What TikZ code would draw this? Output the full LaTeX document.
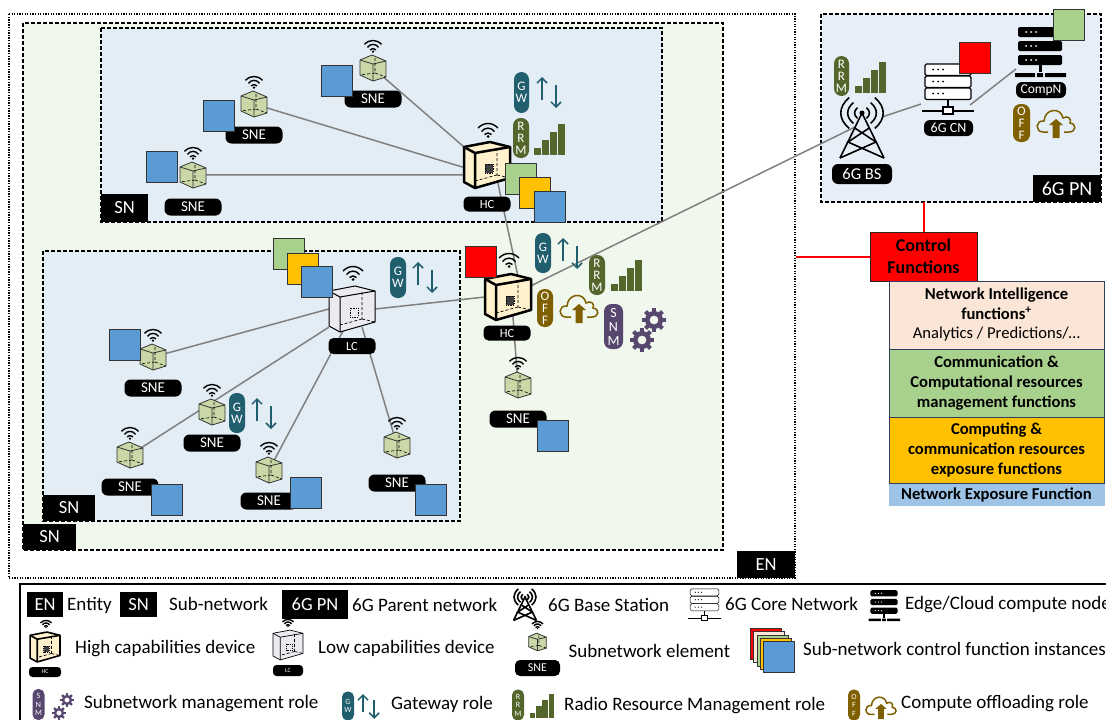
\documentclass[tikz,border=0pt]{standalone}
\usepackage{fontspec}
\setmainfont{Carlito}
\usetikzlibrary{arrows.meta,calc}

\definecolor{enfill}{HTML}{F0F7EC}
\definecolor{snfill}{HTML}{E3EDF5}
\definecolor{pnfill}{HTML}{E6EEF8}
\definecolor{gwcol}{HTML}{215E6E}
\definecolor{rrmcol}{HTML}{55662C}
\definecolor{offcol}{HTML}{7F6000}
\definecolor{snmcol}{HTML}{57476F}
\definecolor{fnblue}{HTML}{5B9BD5}
\definecolor{fngreen}{HTML}{A9D18E}
\definecolor{fnorange}{HTML}{FFC000}
\definecolor{fnpeach}{HTML}{FBE5D6}
\definecolor{fnlight}{HTML}{9DC3E6}
\definecolor{hcfill}{HTML}{FFF2CC}
\definecolor{lcfill}{HTML}{ECEAF1}
\definecolor{snefill}{HTML}{C9D8A6}
\definecolor{linkcol}{HTML}{808080}
\definecolor{stackline}{HTML}{2F3F5F}

\tikzset{
    region/.style={draw=black, line width=1.2pt, dash pattern=on 4pt off 2pt},
    blackbox/.style={fill=black, text=white, inner sep=0pt, font=\fontsize{18.5}{18.5}\selectfont},
    tag/.style={fill=black, text=white, inner sep=0pt, rounded corners=#1},
    fnsquare/.style={draw=black!80, line width=1pt, fill=#1, minimum size=31pt, inner sep=0pt},
    pill/.style={fill=#1, text=white, inner sep=0pt, align=center, rounded corners=7.5pt},
    rolefont/.style={font=\fontsize{13}{12}\selectfont},
    rolesmall/.style={font=\fontsize{8}{8.5}\selectfont, rounded corners=5.5pt},
    link/.style={draw=linkcol, line width=1.5pt},
    redlink/.style={draw=red, line width=2pt},
    hub/.style={inner sep=0pt, minimum width=46pt, minimum height=36pt},
    stackbox/.style={draw=stackline, line width=1pt, fill=#1, minimum width=215pt, inner sep=0pt,
        align=center, font=\fontsize{16.6}{20}\selectfont\bfseries},
    legendtext/.style={anchor=west, inner sep=0pt, font=\fontsize{19}{19}\selectfont},
    pics/wifi/.style={code={
        \draw[line width=1.4pt] (-10,-2) .. controls (-4,-8) and (4,-8) .. (10,-2);
        \draw[line width=1.4pt] (-6.5,1.5) .. controls (-3,-3) and (3,-3) .. (6.5,1.5);
        \draw[line width=1.4pt] (-3.5,4.5) .. controls (-1.5,2.5) and (1.5,2.5) .. (3.5,4.5);
        \fill (0,6.5) circle (1.5);
    }},
    pics/devbox/.style 2 args={code={
        \draw[fill=#1, line join=round] (-23,-18) -- (3,-23) -- (23,-18) -- (23,13) -- (-12,23) -- (-23,17) -- cycle;
        \draw[line join=round] (-23,-18) -- (-12,-12) -- (23,-18) (-12,-12) -- (-12,23);
        \draw[densely dashed, line width=.7pt] (10,-17) -- (10,10) (10,10) -- (-12,16) (10,10) -- (23,13);
        \draw[fill=#2, line width=.8pt, densely dotted] (-2,-1) rectangle (6,8);
    }},
    pics/snecube/.style={code={
        \draw[fill=snefill, draw=black!80, line width=.8pt, line join=round] (-13,-8) -- (-1,-13) -- (13,-7) -- (13,9) -- (0,13) -- (-13,7) -- cycle;
        \draw[draw=black!80, line width=.8pt] (-13,-8) -- (0,-4) -- (13,-7) (0,-4) -- (0,13);
        \draw[densely dashed, line width=.6pt] (2,-10) -- (2,5) (2,5) -- (-13,7) (2,5) -- (13,9);
    }},
    pics/updown/.style={code={
        \draw[gwcol, line width=1.5pt, -{Straight Barb[length=5pt,width=10pt]}] (0,23) -- (0,0);
        \draw[gwcol, line width=1.5pt, -{Straight Barb[length=5pt,width=10pt]}] (14,8) -- (14,31);
    }},
    pics/bars/.style={code={
        \foreach \i/\h in {0/7,1/15,2/23,3/31} {
            \fill[rrmcol] ({\i*8},31) rectangle ({\i*8+7},{31-\h});
        }
    }},
    pics/cloudup/.style={code={
        \draw[offcol, line width=1.5pt] (-8,8) -- (-13,8) .. controls (-21,8) and (-21,-4) .. (-12,-3)
            .. controls (-11,-16) and (5,-17) .. (7,-6) .. controls (12,-9) and (16,-5) .. (14,-1)
            .. controls (21,0) and (20,8) .. (13,8) -- (8,8);
        \fill[offcol] (0,-5) -- (-7,1) -- (-3.5,1) -- (-3.5,14) -- (3.5,14) -- (3.5,1) -- (7,1) -- cycle;
    }},
    pics/gear/.style={code={
        \fill[snmcol, even odd rule] (0,0) circle (9) (0,0) circle (4.5);
        \foreach \a in {0,45,...,315} {
            \fill[snmcol, rotate=\a] (-2,8) rectangle (2,12);
        }
    }},
    pics/tower/.style={code={
        \draw[line width=1.6pt, line join=round] (-22,45) -- (0,0) -- (22,45);
        \draw[line width=1.6pt] (-7.3,15) -- (14,29) -- (-22,45) (7.3,15) -- (-14,29) -- (22,45);
        \fill (0,0) circle (2.5);
        \foreach \r in {7,13.5,20} {
            \draw[line width=1.6pt] ({-.64*\r},{-.77*\r}) .. controls ({-1.2*\r},{-.3*\r}) and ({-1.2*\r},{.3*\r}) .. ({-.64*\r},{.77*\r});
            \draw[line width=1.6pt] ({.64*\r},{-.77*\r}) .. controls ({1.2*\r},{-.3*\r}) and ({1.2*\r},{.3*\r}) .. ({.64*\r},{.77*\r});
        }
    }},
    pics/corenode/.style={code={
        \foreach \y in {-18,-6,6} {
            \draw[fill=white, rounded corners=1.5pt] (-23,\y) rectangle (23,{\y+11.5});
            \fill (-15,{\y+5.5}) circle (1) (-10,{\y+5.5}) circle (1) (-5,{\y+5.5}) circle (1);
        }
        \draw (0,18) -- (0,25) (-26,29) -- (26,29);
        \draw[fill=white] (-5,25) rectangle (5,32);
    }},
    pics/computenode/.style={code={
        \foreach \y in {-19,-5,9} {
            \fill[black, rounded corners=1.5pt] (-22,\y) rectangle (22,{\y+10});
            \fill[white] (-14,{\y+5}) circle (1) (-9,{\y+5}) circle (1) (-4,{\y+5}) circle (1);
        }
        \fill (-1.5,19) rectangle (1.5,26);
        \fill (-25,27) rectangle (-5,31) (-3,27) rectangle (3,31) (5,27) rectangle (26,31);
    }},
}

% SNE with its wifi sign and label
\newcommand{\snedevice}[2]{
    \pic at (#1) {snecube};
    \pic at ($(#1)+(0,-22)$) [scale=.85] {wifi};
    \node[tag=6pt, minimum width=57pt, minimum height=17pt, font=\fontsize{15}{15}\selectfont] (#1tag) at ($(#1)+(0,#2)$) {SNE};
}

\begin{document}
\begin{tikzpicture}[x=1pt, y=-1pt]
    \useasboundingbox (0,0) rectangle (1106,720);

    % Entity
    \draw[draw=black, line width=1.2pt, dash pattern=on 1.3pt off 1.3pt] (9,14) rectangle (795,578);
    \node[blackbox, minimum width=58pt, minimum height=27pt] (enlabel) at (766,564.5) {EN};

    % Outer subnetwork
    \draw[region, fill=enfill] (23,23) rectangle (723,550);
    \node[blackbox, minimum width=53pt, minimum height=26pt] (snouter) at (49.5,537) {SN};

    % Upper subnetwork
    \draw[region, fill=snfill] (101,28) rectangle (662,222);
    \node[blackbox, minimum width=47pt, minimum height=28pt] (snupper) at (124.5,208) {SN};

    % Left subnetwork
    \draw[region, fill=snfill] (43,251) rectangle (460,521);
    \node[blackbox, minimum width=52pt, minimum height=26pt] (snleft) at (69,508) {SN};

    % Parent network
    \draw[region, fill=pnfill] (821,14) rectangle (1101,202);
    \node[blackbox, font=\fontsize{20}{20}\selectfont, minimum width=68pt, minimum height=27pt] (pnlabel) at (1067,188.5) {6G PN};

    % Where the devices sit
    \node[hub] (hctop) at (487,165) {};
    \node[hub] (hcmid) at (508,297) {};
    \node[hub] (lcdev) at (352,309) {};
    \coordinate (sneA) at (373,68);
    \coordinate (sneB) at (254,104);
    \coordinate (sneC) at (193,175);
    \coordinate (sneD) at (153,357);
    \coordinate (sneE) at (130,455);
    \coordinate (sneF) at (212,412);
    \coordinate (sneG) at (269,470);
    \coordinate (sneH) at (397,445);
    \coordinate (sneI) at (518,385);
    \coordinate (bsdev) at (855,127);
    \coordinate (cndev) at (921,104);
    \coordinate (compdev) at (1016,69);
    \coordinate (cnright) at (970,105);
    \coordinate (bsright) at (882,117);

    % Links
    \draw[link] (sneA) -- (hctop.north west);
    \draw[link] (sneB) -- (hctop.186);
    \draw[link] (sneC) -- (hctop.203);
    \draw[link] (hctop.-59) -- (hcmid.60);
    \draw[link] (hcmid.-75) -- (sneI);
    \draw[link] (hcmid) -- (bsdev);
    \draw[link] (bsright) -- (cndev);
    \draw[link] (cnright) -- (compdev);
    \draw[link] (lcdev.east) -- (hcmid.west);
    \draw[link] (lcdev.west) -- (sneD);
    \draw[link] (lcdev.south west) -- (sneE);
    \draw[link] (lcdev.-111) -- (sneG);
    \draw[link] (lcdev.-61) -- (sneH);

    % Upper subnetwork devices
    \snedevice{sneA}{31}
    \snedevice{sneB}{31}
    \snedevice{sneC}{32}
    \node[fnsquare=fnblue] (sqA) at (337,80.5) {};
    \node[fnsquare=fnblue] (sqB) at (219,116) {};
    \node[fnsquare=fnblue] (sqC) at (162,167) {};
    \pic[line width=2.5pt] at (hctop) {devbox={hcfill}{black!75}};
    \pic at (488,130) {wifi};
    \node[tag=5pt, minimum width=47pt, minimum height=15pt, font=\fontsize{12.5}{12.5}\selectfont] (hctoptag) at (487,204) {HC};
    \node[fnsquare=fngreen] (sqD) at (520.5,179) {};
    \node[fnsquare=fnorange] (sqE) at (534.5,193) {};
    \node[fnsquare=fnblue] (sqF) at (549.5,207) {};
    \node[pill=gwcol, rolefont, minimum width=15pt, minimum height=41pt] (gwtop) at (521.5,92.5) {G\\W};
    \pic at (542,77) {updown};
    \node[pill=rrmcol, rolefont, minimum width=16pt, minimum height=40pt] (rrmtop) at (521,138) {R\\R\\M};
    \pic at (534,124) {bars};

    % Middle device
    \pic[line width=2.5pt] at (hcmid) {devbox={hcfill}{black!75}};
    \pic at (509,260) {wifi};
    \node[tag=5pt, minimum width=47pt, minimum height=15pt, font=\fontsize{12.5}{12.5}\selectfont] (hcmidtag) at (507,333) {HC};
    \node[fnsquare=red] (sqG) at (480.5,262) {};
    \node[pill=gwcol, rolefont, minimum width=16pt, minimum height=40pt] (gwmid) at (543,253) {G\\W};
    \pic at (563,238) {updown};
    \node[pill=rrmcol, rolefont, minimum width=16pt, minimum height=40pt] (rrmmid) at (597,275) {R\\R\\M};
    \pic at (611,260) {bars};
    \node[pill=offcol, rolefont, minimum width=16pt, minimum height=38pt] (offmid) at (545,308) {O\\F\\F};
    \pic at (579,309) {cloudup};
    \node[pill=snmcol, font=\fontsize{14}{14}\selectfont, minimum width=19pt, minimum height=45pt] (snmmid) at (613.5,326.5) {S\\N\\M};
    \pic at (654,320) {gear};
    \pic at (642,340) {gear};
    \snedevice{sneI}{34}
    \node[fnsquare=fnblue] (sqH) at (552.5,436) {};

    % Left subnetwork devices
    \pic[line width=1pt] at (lcdev) {devbox={lcfill}{lcfill}};
    \pic at (353,273) {wifi};
    \node[tag=5pt, minimum width=47pt, minimum height=16pt, font=\fontsize{12.5}{12.5}\selectfont] (lctag) at (352,346) {LC};
    \node[fnsquare=fngreen] (sqI) at (288.5,254) {};
    \node[fnsquare=fnorange] (sqJ) at (303,268.5) {};
    \node[fnsquare=fnblue] (sqK) at (317,282) {};
    \node[pill=gwcol, rolefont, minimum width=16pt, minimum height=41pt] (gwlc) at (398,277.5) {G\\W};
    \pic at (418,262) {updown};
    \snedevice{sneD}{31}
    \snedevice{sneE}{32}
    \snedevice{sneF}{31}
    \snedevice{sneG}{31}
    \snedevice{sneH}{38}
    \node[fnsquare=fnblue] (sqL) at (125,345) {};
    \node[fnsquare=fnblue] (sqM) at (166.5,500) {};
    \node[fnsquare=fnblue] (sqN) at (305.5,493) {};
    \node[fnsquare=fnblue] (sqO) at (430.5,500) {};
    \node[pill=gwcol, rolefont, minimum width=16pt, minimum height=40pt] (gwsne) at (237,413) {G\\W};
    \pic at (257,398) {updown};

    % Parent network devices
    \node[pill=rrmcol, rolefont, minimum width=15pt, minimum height=40pt] (rrmpn) at (841.5,76) {R\\R\\M};
    \pic at (855,62) {bars};
    \pic at (862,113) {tower};
    \node[tag=6pt, minimum width=60pt, minimum height=20pt, font=\fontsize{16.5}{16.5}\selectfont] (bstag) at (862,174) {6G BS};
    \pic[line width=1.1pt] at (948,82) {corenode};
    \node[tag=6pt, minimum width=49pt, minimum height=16pt, font=\fontsize{14}{14}\selectfont] (cntag) at (948.5,128) {6G CN};
    \node[fnsquare=red] (sqP) at (974.5,57.5) {};
    \pic at (1040,46) {computenode};
    \node[tag=6pt, minimum width=50pt, minimum height=16pt, font=\fontsize{13.5}{13.5}\selectfont] (comptag) at (1041,90) {CompN};
    \node[fnsquare=fngreen] (sqQ) at (1068.5,25) {};
    \node[pill=offcol, rolefont, minimum width=17pt, minimum height=38pt] (offpn) at (1021.5,123) {O\\F\\F};
    \pic at (1056,124) {cloudup};

    % Control functions
    \node[draw=black!85, line width=1pt, fill=red, minimum width=107pt, minimum height=49pt, inner sep=0pt, align=center,
        font=\fontsize{18}{22}\selectfont\bfseries] (ctrl) at (923.5,256.5) {Control\\Functions};
    \coordinate (pnbottom) at (ctrl.north |- 0,202);
    \coordinate (enright) at (796,257);
    \draw[redlink] (pnbottom) -- (ctrl.north);
    \draw[redlink] (enright) -- (enright -| ctrl.west);

    \node[stackbox=fnpeach, minimum height=68pt] (nintel) at (996.5,315) {Network Intelligence\\functions\textsuperscript{+}\\[-1pt]{\normalfont Analytics / Predictions/\dots}};
    \node[stackbox=fngreen, minimum height=68pt] (cmgmt) at (996.5,383) {Communication \&\\Computational resources\\management functions};
    \node[stackbox=fnorange, minimum height=66pt] (cexpo) at (996.5,450) {Computing \&\\communication resources\\exposure functions};
    \node[fill=fnlight, minimum width=216pt, minimum height=22pt, inner sep=0pt, font=\fontsize{16.6}{16.6}\selectfont\bfseries] (nef) at (996.5,494.5) {Network Exposure Function};

    % Legend
    \draw[draw=black, line width=1.5pt] (20,584) rectangle (1130,740);

    \node[blackbox, minimum width=36pt, minimum height=25pt] (lgen) at (45,604.5) {EN};
    \node[legendtext] (lgentext) at (67,605) {Entity};
    \node[blackbox, minimum width=37pt, minimum height=25pt] (lgsn) at (138.5,604.5) {SN};
    \node[legendtext] (lgsntext) at (169,603.5) {Sub-network};
    \node[blackbox, minimum width=66pt, minimum height=29pt] (lgpn) at (315,604) {6G PN};
    \node[legendtext] (lgpntext) at (352,604.5) {6G Parent network};
    \pic[scale=.52, line width=.9pt] at (525,597) {tower};
    \node[legendtext] (lgbstext) at (548,604.5) {6G Base Station};
    \pic[scale=.62, line width=.5pt] at (704.5,600) {corenode};
    \node[legendtext] (lgcntext) at (725,603.5) {6G Core Network};
    \pic[scale=.62] at (884,602) {computenode};
    \node[legendtext] (lgcomptext) at (905,605) {Edge/Cloud compute node};

    \pic[scale=.65, line width=1.6pt] at (45,647) {devbox={hcfill}{black!75}};
    \pic[scale=.55] at (46,624) {wifi};
    \node[tag=3.5pt, minimum width=32pt, minimum height=10pt, font=\fontsize{6}{6}\selectfont] (lghctag) at (45,672) {HC};
    \node[legendtext] (lghctext) at (75,648.5) {High capabilities device};
    \pic[scale=.65, line width=.7pt] at (288,645) {devbox={lcfill}{lcfill}};
    \pic[scale=.55] at (288,623) {wifi};
    \node[tag=3.5pt, minimum width=30pt, minimum height=11pt, font=\fontsize{6}{6}\selectfont] (lglctag) at (288,670.5) {LC};
    \node[legendtext] (lglctext) at (318,648.5) {Low capabilities device};
    \pic[scale=.68] at (537.5,642) {snecube};
    \pic[scale=.55] at (537.5,625) {wifi};
    \node[tag=5pt, minimum width=45pt, minimum height=16pt, font=\fontsize{12}{12}\selectfont] (lgsnetag) at (537.5,668) {SNE};
    \node[legendtext] (lgsnetext) at (568.5,651) {Subnetwork element};
    \foreach \c [count=\i from 0] in {red,fnpeach,fngreen,fnorange,fnblue} {
        \node[fnsquare=\c] (lgstack\i) at ({766+3.3*\i},{644+3.3*\i}) {};
    }
    \node[legendtext] (lgstacktext) at (803,648.5) {Sub-network control function instances};

    \node[pill=snmcol, rolesmall, minimum width=12pt, minimum height=31pt] (lgsnm) at (38.5,704.5) {S\\N\\M};
    \pic[scale=.58] at (67,700) {gear};
    \pic[scale=.58] at (59,713) {gear};
    \node[legendtext] (lgsnmtext) at (84,704) {Subnetwork management role};
    \node[pill=gwcol, rolesmall, minimum width=12pt, minimum height=29pt] (lggw) at (348,706) {G\\W};
    \pic[scale=.8] at (363,694) {updown};
    \node[legendtext] (lggwtext) at (391,704) {Gateway role};
    \node[pill=rrmcol, rolesmall, minimum width=12pt, minimum height=31pt] (lgrrm) at (518,705) {R\\R\\M};
    \pic[scale=.78] at (530,694) {bars};
    \node[legendtext] (lgrrmtext) at (564,706) {Radio Resource Management role};
    \node[pill=offcol, rolesmall, minimum width=12pt, minimum height=31pt] (lgoff) at (854,705) {O\\F\\F};
    \pic[scale=.8] at (881,708) {cloudup};
    \node[legendtext] (lgofftext) at (901,704) {Compute offloading role};
\end{tikzpicture}
\end{document}
